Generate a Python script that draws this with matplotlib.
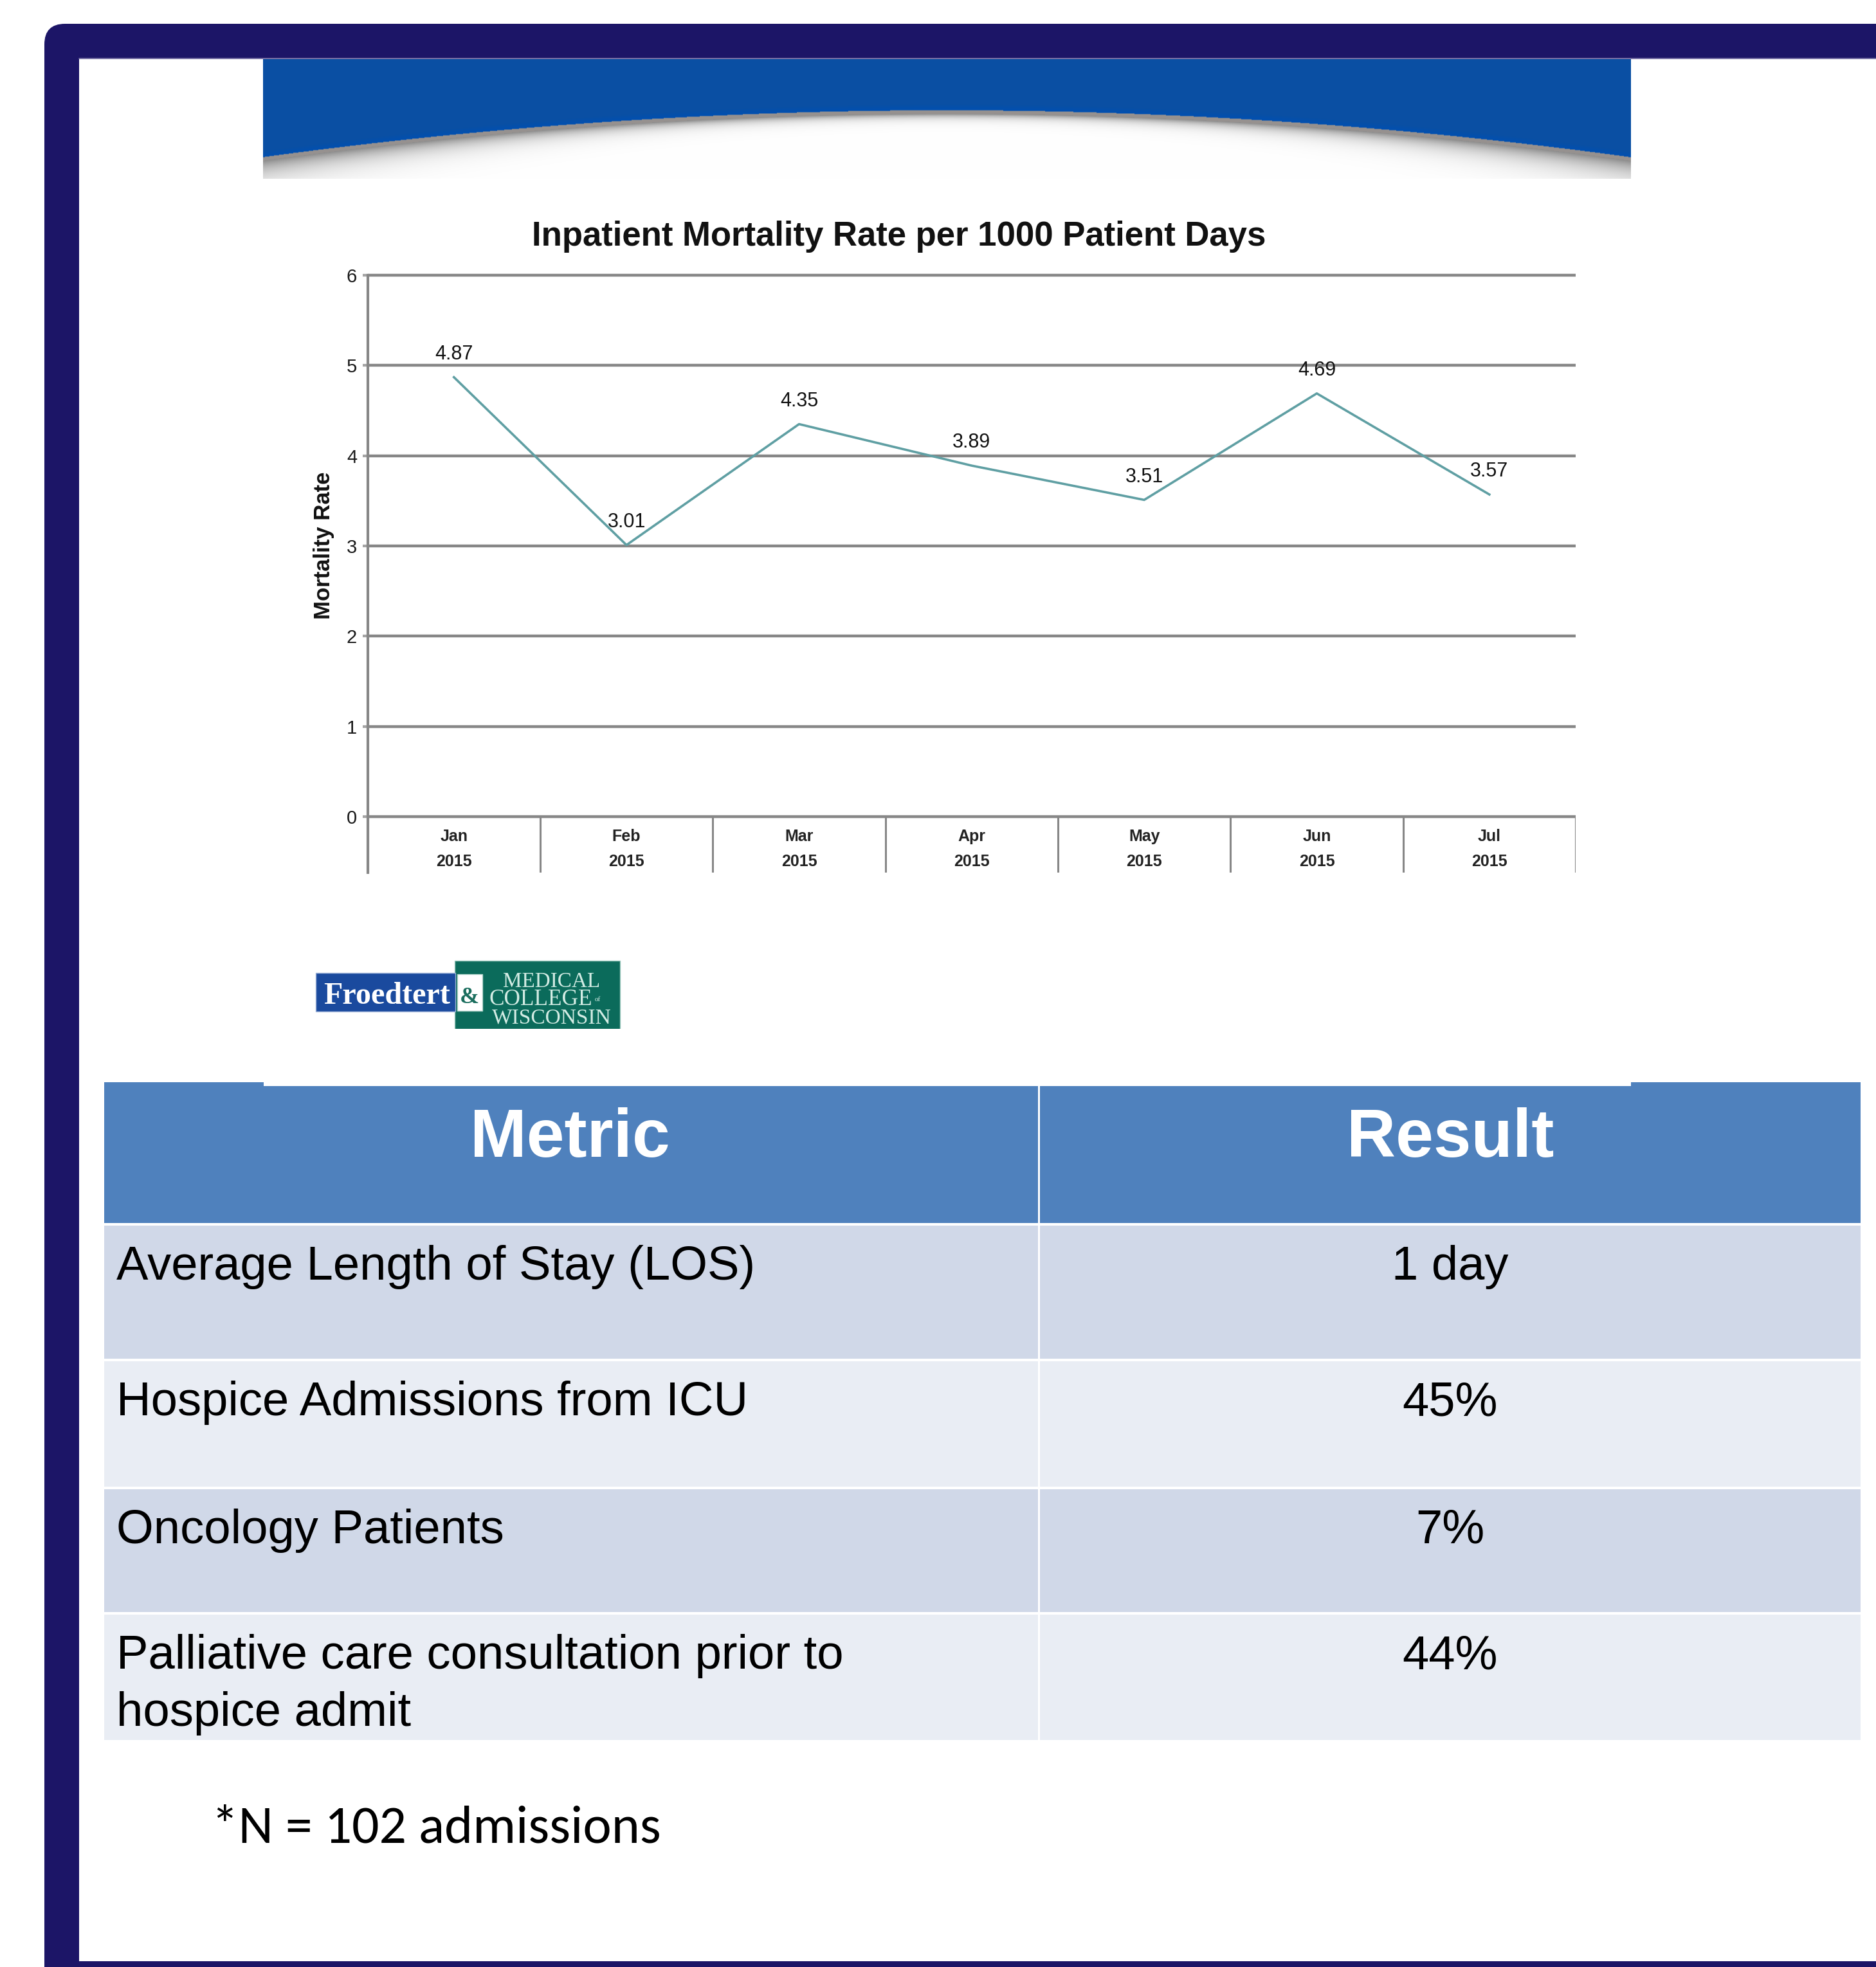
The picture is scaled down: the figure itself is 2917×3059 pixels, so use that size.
import numpy as np
import matplotlib
matplotlib.use('Agg')
import matplotlib.pyplot as plt
from matplotlib.patches import Rectangle, FancyBboxPatch
from matplotlib import font_manager

# ---------------- data ----------------
months = ['Jan', 'Feb', 'Mar', 'Apr', 'May', 'Jun', 'Jul']
years = ['2015', '2015', '2015', '2015', '2015', '2015', '2015']
mortality = [4.87, 3.01, 4.35, 3.89, 3.51, 4.69, 3.57]
y_ticks = [0, 1, 2, 3, 4, 5, 6]
chart_title = 'Inpatient Mortality Rate per 1000 Patient Days'
y_label = 'Mortality Rate'
table_header = ['Metric', 'Result']
table_metrics = ['Average Length of Stay (LOS)',
                 'Hospice Admissions from ICU',
                 'Oncology Patients',
                 'Palliative care consultation prior to\nhospice admit']
table_results = ['1 day', '45%', '7%', '44%']
footnote = '*N = 102 admissions'

# ---------------- fonts ----------------
avail = {f.name for f in font_manager.fontManager.ttflist}
def fam(*names):
    out = [n for n in names if n in avail]
    return out + ['DejaVu Sans']
SANS = fam('Liberation Sans', 'Arimo')
SERIF = fam('Liberation Serif', 'DejaVu Serif')
FOOT = fam('Carlito', 'Lato', 'Open Sans')

W, H = 2917, 3059
fig = plt.figure(figsize=(W / 100, H / 100), dpi=100)
fig.patch.set_facecolor('white')

bg = fig.add_axes([0, 0, 1, 1])
bg.set_xlim(0, W)
bg.set_ylim(H, 0)
bg.axis('off')

FRAME = '#1C1567'
# frame (rounded top-left corner)
bg.add_patch(FancyBboxPatch((69, 37), 3200, 3200, boxstyle='round,pad=0,rounding_size=32',
                            fc=FRAME, ec='none', zorder=0))
bg.add_patch(Rectangle((123, 90), 3000, 3050 - 90, fc='white', ec='none', zorder=0.5))
bg.plot([123, W], [91, 91], color='#5B5494', lw=1.2, zorder=0.6)

# ---------------- banner ----------------
bx0, bx1, by0, by1 = 409, 2536, 92, 278
bw, bh = bx1 - bx0, by1 - by0
gx = bx0 + np.arange(bw) + 0.5
gy = by0 + np.arange(bh) + 0.5
GX, GY = np.meshgrid(gx, gy)
u = np.abs(GX - 1472) / 1064.0
arc = 172 + 73 * u ** 2
d = GY - arc
blue = np.array([10, 79, 163]) / 255.0
blue2 = np.array([0, 80, 178]) / 255.0
gray = np.array([150, 145, 143]) / 255.0
gray2 = np.array([140, 140, 140]) / 255.0
white = np.array([1.0, 1.0, 1.0])
img = np.zeros((bh, bw, 3))
near = np.clip(1 + d / 10.0, 0, 1)[..., None]
above = blue * (1 - near) + blue2 * near
L = (6 + 16 * u ** 2)[..., None]
t = np.exp(-np.clip(d - 5, 0, None)[..., None] / L)
below = white + (gray2 - white) * t
band = (d >= 0) & (d < 5)
img[:] = below
img[d < 0] = above[d < 0]
img[band] = gray
edge = (d >= -1) & (d < 0)
img[edge] = 0.5 * blue2 + 0.5 * gray
bg.imshow(img, extent=(bx0, bx1, by1, by0), interpolation='bilinear', zorder=1, aspect='auto')

# ---------------- chart ----------------
GRID = '#878787'
ax_left, ax_right, ax_top, ax_bottom = 571.6, 2450.0, 428.0, 1357.0
y0_px = 1270.0
ppu = (y0_px - ax_top) / 6.0
ymin = -(ax_bottom - y0_px) / ppu
ax = fig.add_axes([ax_left / W, 1 - ax_bottom / H, (ax_right - ax_left) / W, (ax_bottom - ax_top) / H])
ax.patch.set_alpha(0)
ax.set_xlim(-0.5, len(months) - 0.5)
ax.set_ylim(ymin, 6)
for s in ['top', 'right', 'bottom']:
    ax.spines[s].set_visible(False)
ax.spines['left'].set_color(GRID)
ax.spines['left'].set_linewidth(3.0)
ax.set_xticks([])
ax.set_yticks(y_ticks)
ax.set_yticklabels([str(v) for v in y_ticks], fontsize=21, family=SANS, color='#1a1a1a')
ax.tick_params(axis='y', length=5.8, width=3.0, color='#A5A5A5', pad=6)
for yv in y_ticks:
    ax.plot([-0.5, len(months) - 0.5], [yv, yv], color=GRID, lw=3.2,
            solid_capstyle='butt', clip_on=False, zorder=1)
ax.vlines([k - 0.5 for k in range(len(months) + 1)], ymin, 0, color=GRID, lw=2.2, zorder=1)
x = np.arange(len(months))
ax.plot(x, mortality, color='#5F9FA3', lw=2.6, zorder=3)
for i, v in enumerate(mortality):
    ax.annotate(f'{v:.2f}', (i, v), xytext=(0, 19.9), textcoords='offset points',
                ha='center', va='baseline', fontsize=22, family=SANS, color='#111111')
for i, (m, yr) in enumerate(zip(months, years)):
    ax.text(i, (y0_px - 1308) / ppu, m, ha='center', va='baseline', fontsize=18,
            fontweight='bold', family=SANS, color='#222222')
    ax.text(i, (y0_px - 1347) / ppu, yr, ha='center', va='baseline', fontsize=18,
            fontweight='bold', family=SANS, color='#222222')

bg.text(1398, 382, chart_title, ha='center', va='baseline', fontsize=38,
        fontweight='bold', family=SANS, color='#111111', zorder=5)
bg.text(503, 848, y_label, ha='center', va='center', rotation=90, fontsize=25,
        fontweight='bold', family=SANS, color='#111111', zorder=5)

# ---------------- logo ----------------
renderer = fig.canvas.get_renderer()
def fit_text(axx, xx, yy, s, target_w, size0=20, **kw):
    tt = axx.text(xx, yy, s, fontsize=size0, **kw)
    w = tt.get_window_extent(renderer).width
    tt.set_fontsize(size0 * target_w / w)
    return tt

bg.add_patch(Rectangle((707, 1494), 257, 116, fc='#0B6B5B', ec='#9CC9BE', lw=1.0, zorder=2))
bg.add_patch(Rectangle((491, 1513), 217, 60, fc='#1A4A9E', ec='#9FB4D8', lw=1.0, zorder=2))
bg.add_patch(Rectangle((711, 1515), 39, 57, fc='white', ec='#B5D6CC', lw=1.0, zorder=3))
fit_text(bg, 503, 1561, 'Froedtert', 197, family=SERIF, fontweight='bold', color='white',
         ha='left', va='baseline', zorder=4)
fit_text(bg, 730, 1560, '&', 30, family=SERIF, fontweight='bold', color='#1B6E5E',
         ha='center', va='baseline', zorder=4)
LG = '#D3ECE4'
fit_text(bg, 782, 1535, 'MEDICAL', 151, family=SERIF, color=LG, ha='left', va='baseline', zorder=4)
fit_text(bg, 760, 1563, 'COLLEGE', 160, family=SERIF, color=LG, ha='left', va='baseline', zorder=4)
bg.text(925, 1557, 'of', fontsize=8, family=SERIF, color=LG, ha='left', va='baseline', zorder=4)
fit_text(bg, 765, 1592, 'WISCONSIN', 185, family=SERIF, color=LG, ha='left', va='baseline', zorder=4)

# ---------------- table ----------------
HEAD = '#4F81BD'
ROW_A = '#D0D8E8'
ROW_B = '#E9EDF4'
col_x = [(162, 1614), (1617, 2893)]
rows_y = [(1683, 1902), (1906, 2113), (2117, 2312), (2316, 2507), (2511, 2706)]
for ri, (ya, yb) in enumerate(rows_y):
    c = HEAD if ri == 0 else (ROW_A if ri % 2 == 1 else ROW_B)
    for xa, xb in col_x:
        bg.add_patch(Rectangle((xa, ya), xb - xa, yb - ya, fc=c, ec='none', zorder=2))
# slide image edge overlapping header
bg.add_patch(Rectangle((410, 1600), 2126, 89, fc='white', ec='none', zorder=2.5))

cx1 = (col_x[0][0] + col_x[0][1]) / 2
cx2 = (col_x[1][0] + col_x[1][1]) / 2
bg.text(cx1 - 2, 1799, table_header[0], ha='center', va='baseline', fontsize=76,
        fontweight='bold', family=SANS, color='white', zorder=5)
bg.text(cx2, 1799, table_header[1], ha='center', va='baseline', fontsize=76,
        fontweight='bold', family=SANS, color='white', zorder=5)
for i, (mtxt, rtxt) in enumerate(zip(table_metrics, table_results)):
    top = rows_y[i + 1][0]
    base = top + 84
    for li, line in enumerate(mtxt.split('\n')):
        bg.text(181, base + li * 89, line, ha='left', va='baseline', fontsize=53.5,
                family=SANS, color='black', zorder=5)
    bg.text(cx2, base, rtxt, ha='center', va='baseline', fontsize=53.5,
            family=SANS, color='black', zorder=5)

fit_text(bg, 329, 2865, footnote, 698, family=FOOT, color='black', ha='left',
         va='baseline', zorder=5)

fig.savefig('out.png', dpi=100, facecolor='white')
